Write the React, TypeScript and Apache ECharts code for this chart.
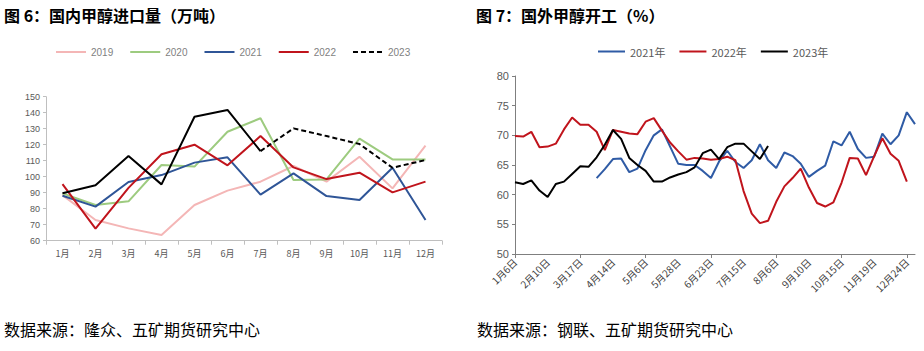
import React, { useEffect, useRef } from "react";
import * as echarts from "echarts";

// ---- Left chart: 国内甲醇进口量（万吨） ----
const months = ["1月", "2月", "3月", "4月", "5月", "6月", "7月", "8月", "9月", "10月", "11月", "12月"];
const imp2019 = [88.5, 72.9, 67.7, 63.5, 82.3, 91.3, 96.9, 106.7, 96.9, 112.5, 92.7, 119.4];
const imp2020 = [89.6, 82.3, 84.6, 107.3, 106.3, 128.1, 136.5, 97.9, 98.3, 123.8, 110.8, 110.8];
const imp2021 = [88.1, 81.3, 96.7, 101.0, 108.8, 112.1, 88.8, 102.1, 87.9, 85.4, 105.6, 72.9];
const imp2022 = [95.4, 67.5, 93.0, 114.0, 120.0, 107.1, 125.4, 105.8, 98.5, 102.5, 90.2, 96.9];
const imp2023Actual = [89.6, 94.6, 112.9, 95.2, 137.5, 141.7, 116.0, null, null, null, null, null];
const imp2023Dashed = [null, null, null, null, null, null, 116.0, 130.2, 125.4, 120.4, 105.6, 110.4];

// ---- Right chart: 国外甲醇开工（%） ----
const weekLabels = [
  "1月6日", "1月13日", "1月20日", "1月27日",
  "2月10日", "2月17日", "2月24日", "3月3日",
  "3月17日", "3月24日", "3月31日", "4月7日",
  "4月14日", "4月21日", "4月28日", "4月30日",
  "5月6日", "5月12日", "5月19日", "5月21日",
  "5月28日", "6月2日", "6月9日", "6月16日",
  "6月23日", "6月30日", "7月1日", "7月8日",
  "7月15日", "7月21日", "7月28日", "7月29日",
  "8月6日", "8月13日", "8月20日", "9月3日",
  "9月10日", "9月17日", "9月24日", "10月8日",
  "10月15日", "10月22日", "10月29日", "11月5日",
  "11月19日", "11月26日", "12月3日", "12月10日",
  "12月24日", "12月31日",
];
const op2021 = [
  null, null, null, null, null, null, null, null, null, null,
  62.8, 64.3, 66.0, 66.1, 63.8, 64.4, 67.5, 70.0, 71.0, 68.1,
  65.2, 65.0, 65.0, 64.0, 62.8, 65.6, 67.4, 65.5, 64.5, 65.8,
  68.5, 65.8, 64.5, 67.1, 66.5, 65.2, 63.0, 64.0, 64.9, 69.0,
  68.3, 70.6, 67.7, 66.2, 66.4, 70.3, 68.5, 70.0, 73.9, 71.9,
];
const op2022 = [
  69.9, 69.8, 70.6, 68.0, 68.1, 68.6, 71.0, 73.0, 71.8, 71.8,
  70.6, 67.5, 70.9, 70.6, 70.3, 70.2, 72.3, 72.9, 70.8, 68.8,
  67.3, 65.9, 66.2, 66.1, 65.9, 66.0, 66.4, 65.8, 60.6, 56.8,
  55.2, 55.6, 58.8, 61.4, 62.8, 64.4, 61.2, 58.6, 58.0, 58.7,
  62.0, 66.2, 66.1, 63.3, 66.5, 69.5, 66.9, 65.7, 62.2, null,
];
const op2023 = [
  62.1, 61.8, 62.4, 60.7, 59.6, 61.8, 62.2, 63.5, 64.8, 64.7,
  66.3, 68.4, 70.9, 69.4, 66.2, 65.0, 64.0, 62.2, 62.2, 62.9,
  63.4, 63.8, 64.6, 67.0, 67.6, 66.0, 68.0, 68.6, 68.6, 67.3,
  66.0, 68.2,
];

const CN = '"Noto Sans CJK SC", "Noto Sans", sans-serif';
const LAT = '"Liberation Sans", Arial, sans-serif';

export default function App() {
  const ref = useRef<HTMLDivElement>(null);
  useEffect(() => {
    if (!ref.current) return;
    const chart = echarts.init(ref.current, null, { renderer: "svg" });
    const leftAxisColor = "#bfbfbf";
    const rightAxisColor = "#7f7f7f";
    chart.setOption({
      animation: false,
      backgroundColor: "#ffffff",
      textStyle: { fontFamily: CN },
      graphic: [
        { type: "text", left: 4, top: 7, style: { text: "图 6：国内甲醇进口量（万吨）", font: `bold 16px ${CN}`, fill: "#000" } },
        { type: "text", left: 476, top: 7, style: { text: "图 7：国外甲醇开工（%）", font: `bold 16px ${CN}`, fill: "#000" } },
        { type: "text", left: 4, top: 321, style: { text: "数据来源：隆众、五矿期货研究中心", font: `16px ${CN}`, fill: "#000" } },
        { type: "text", left: 477, top: 321, style: { text: "数据来源：钢联、五矿期货研究中心", font: `16px ${CN}`, fill: "#000" } },
      ],
      legend: [
        {
          data: ["2019", "2020", "2021", "2022", "2023"],
          left: 55,
          top: 47,
          padding: 0,
          itemWidth: 30,
          itemHeight: 10,
          itemGap: 16,
          itemStyle: { opacity: 0 },
          textStyle: { fontSize: 10, color: "#7f7f7f", fontFamily: LAT },
        },
        {
          data: ["2021年", "2022年", "2023年"],
          left: 597,
          top: 46,
          padding: 0,
          itemWidth: 27,
          itemHeight: 10,
          itemGap: 13,
          itemStyle: { opacity: 0 },
          textStyle: { fontSize: 11, color: "#595959", fontFamily: CN },
        },
      ],
      grid: [
        { left: 46, top: 96.7, width: 396, height: 144 },
        { left: 515, top: 76, width: 400, height: 178 },
      ],
      xAxis: [
        {
          gridIndex: 0,
          type: "category",
          data: months,
          boundaryGap: true,
          axisLine: { lineStyle: { color: leftAxisColor } },
          axisTick: { show: true, length: 4, lineStyle: { color: leftAxisColor } },
          axisLabel: { color: "#595959", fontSize: 9, margin: 8, fontFamily: CN },
        },
        {
          gridIndex: 1,
          type: "category",
          data: weekLabels,
          boundaryGap: false,
          axisLine: { lineStyle: { color: rightAxisColor } },
          axisTick: { show: true, length: 4, interval: 7, lineStyle: { color: rightAxisColor } },
          axisLabel: { color: "#404040", fontSize: 10, rotate: 45, interval: 3, margin: 6, fontFamily: CN },
        },
      ],
      yAxis: [
        {
          gridIndex: 0,
          type: "value",
          min: 60,
          max: 150,
          interval: 10,
          axisLine: { show: true, lineStyle: { color: leftAxisColor } },
          axisTick: { show: true, length: 3, lineStyle: { color: leftAxisColor } },
          splitLine: { show: false },
          axisLabel: { color: "#595959", fontSize: 9, margin: 6, fontFamily: LAT },
        },
        {
          gridIndex: 1,
          type: "value",
          min: 50,
          max: 80,
          interval: 5,
          axisLine: { show: true, lineStyle: { color: rightAxisColor } },
          axisTick: { show: true, length: 3, lineStyle: { color: rightAxisColor } },
          splitLine: { show: false },
          axisLabel: { color: "#595959", fontSize: 11, margin: 6, fontFamily: LAT },
        },
      ],
      series: [
        { name: "2019", type: "line", xAxisIndex: 0, yAxisIndex: 0, data: imp2019, symbol: "none", lineStyle: { color: "#F4B6B6", width: 2 }, itemStyle: { color: "#F4B6B6" } },
        { name: "2020", type: "line", xAxisIndex: 0, yAxisIndex: 0, data: imp2020, symbol: "none", lineStyle: { color: "#9DCB7F", width: 2 }, itemStyle: { color: "#9DCB7F" } },
        { name: "2021", type: "line", xAxisIndex: 0, yAxisIndex: 0, data: imp2021, symbol: "none", lineStyle: { color: "#2F5597", width: 2 }, itemStyle: { color: "#2F5597" } },
        { name: "2022", type: "line", xAxisIndex: 0, yAxisIndex: 0, data: imp2022, symbol: "none", lineStyle: { color: "#C0141C", width: 2 }, itemStyle: { color: "#C0141C" } },
        { name: "2023实际", type: "line", xAxisIndex: 0, yAxisIndex: 0, data: imp2023Actual, symbol: "none", lineStyle: { color: "#000000", width: 2 }, itemStyle: { color: "#000000" } },
        { name: "2023", type: "line", xAxisIndex: 0, yAxisIndex: 0, data: imp2023Dashed, symbol: "none", lineStyle: { color: "#000000", width: 2, type: [5, 3] }, itemStyle: { color: "#000000" } },
        { name: "2021年", type: "line", xAxisIndex: 1, yAxisIndex: 1, data: op2021, symbol: "none", lineStyle: { color: "#2F5BA5", width: 2 }, itemStyle: { color: "#2F5BA5" } },
        { name: "2022年", type: "line", xAxisIndex: 1, yAxisIndex: 1, data: op2022, symbol: "none", lineStyle: { color: "#C0141C", width: 2 }, itemStyle: { color: "#C0141C" } },
        { name: "2023年", type: "line", xAxisIndex: 1, yAxisIndex: 1, data: op2023, symbol: "none", lineStyle: { color: "#000000", width: 2 }, itemStyle: { color: "#000000" } },
      ],
    });
    return () => chart.dispose();
  }, []);
  return <div ref={ref} style={{ position: "fixed", left: 0, top: 0, width: 924, height: 351 }} />;
}
